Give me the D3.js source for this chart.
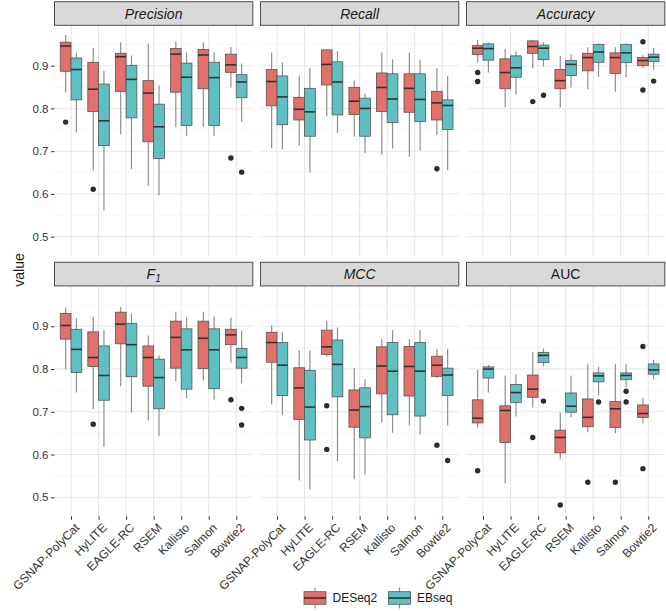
<!DOCTYPE html>
<html><head><meta charset="utf-8">
<script src="https://cdn.jsdelivr.net/npm/d3@7"></script>
<style>body{margin:0;background:#fff} svg{display:block;font-family:"Liberation Sans",Arial,Helvetica,sans-serif}</style>
</head><body><svg id="c" width="666" height="611"></svg>
<script>
// ---------------- data ----------------
const tools = ["GSNAP-PolyCat","HyLITE","EAGLE-RC","RSEM","Kallisto","Salmon","Bowtie2"];
const groups = ["DESeq2","EBseq"];
const metrics = ["Precision","Recall","Accuracy","F1","MCC","AUC"];
const yTicks = [0.5,0.6,0.7,0.8,0.9];
const yMinorTicks = [0.55,0.65,0.75,0.85,0.95];
const yDomain = [0.4555, 0.9945];
// each row: [lower whisker, Q1, median, Q3, upper whisker, [outliers]]
const precisionDESeq2 = [
  [0.837,0.887,0.946,0.955,0.972,[0.768]],
  [0.654,0.793,0.845,0.908,0.941,[0.611]],
  [0.739,0.840,0.921,0.929,0.955,[]],
  [0.619,0.722,0.836,0.865,0.952,[]],
  [0.756,0.838,0.927,0.940,0.957,[]],
  [0.757,0.846,0.925,0.938,0.955,[]],
  [0.849,0.884,0.902,0.927,0.944,[0.684]]];
const precisionEBseq = [
  [0.743,0.820,0.891,0.918,0.931,[]],
  [0.561,0.713,0.771,0.857,0.888,[]],
  [0.658,0.778,0.868,0.901,0.924,[]],
  [0.597,0.683,0.757,0.810,0.854,[]],
  [0.736,0.760,0.873,0.906,0.931,[]],
  [0.735,0.760,0.872,0.908,0.931,[]],
  [0.769,0.825,0.862,0.879,0.905,[0.651]]];
const recallDESeq2 = [
  [0.707,0.806,0.863,0.891,0.931,[]],
  [0.713,0.773,0.798,0.826,0.877,[]],
  [0.782,0.855,0.903,0.937,0.938,[]],
  [0.734,0.786,0.817,0.849,0.866,[]],
  [0.691,0.793,0.849,0.883,0.931,[]],
  [0.687,0.791,0.847,0.881,0.930,[]],
  [0.738,0.773,0.813,0.840,0.894,[0.659]]];
const recallEBseq = [
  [0.704,0.762,0.827,0.876,0.908,[]],
  [0.650,0.735,0.792,0.847,0.895,[]],
  [0.742,0.785,0.862,0.909,0.934,[]],
  [0.696,0.735,0.800,0.824,0.835,[]],
  [0.706,0.767,0.822,0.881,0.915,[]],
  [0.701,0.769,0.821,0.881,0.914,[]],
  [0.656,0.751,0.807,0.820,0.876,[]]];
const accuracyDESeq2 = [
  [0.908,0.926,0.941,0.947,0.960,[0.884,0.863]],
  [0.803,0.846,0.884,0.916,0.939,[]],
  [0.894,0.929,0.945,0.958,0.960,[0.816]],
  [0.802,0.846,0.865,0.891,0.923,[]],
  [0.845,0.888,0.919,0.929,0.943,[]],
  [0.839,0.882,0.919,0.930,0.943,[]],
  [0.894,0.900,0.912,0.919,0.925,[0.956,0.843]]];
const accuracyEBseq = [
  [0.884,0.913,0.940,0.951,0.954,[]],
  [0.832,0.873,0.895,0.923,0.934,[]],
  [0.898,0.914,0.941,0.948,0.955,[0.831]],
  [0.849,0.877,0.903,0.912,0.927,[]],
  [0.874,0.908,0.932,0.950,0.952,[]],
  [0.873,0.907,0.930,0.950,0.952,[]],
  [0.891,0.910,0.920,0.927,0.942,[0.864]]];
const f1DESeq2 = [
  [0.799,0.870,0.902,0.930,0.944,[]],
  [0.706,0.806,0.827,0.887,0.922,[0.671]],
  [0.760,0.859,0.905,0.933,0.946,[]],
  [0.679,0.760,0.827,0.854,0.879,[]],
  [0.772,0.802,0.874,0.912,0.934,[]],
  [0.773,0.801,0.872,0.912,0.934,[]],
  [0.815,0.857,0.880,0.893,0.920,[0.728]]];
const f1EBseq = [
  [0.745,0.792,0.846,0.893,0.919,[]],
  [0.618,0.727,0.785,0.854,0.892,[]],
  [0.698,0.782,0.857,0.907,0.930,[]],
  [0.643,0.707,0.780,0.823,0.832,[]],
  [0.732,0.753,0.845,0.894,0.921,[]],
  [0.729,0.754,0.845,0.894,0.923,[]],
  [0.767,0.802,0.827,0.848,0.890,[0.708,0.669]]];
const mccDESeq2 = [
  [0.717,0.816,0.862,0.886,0.902,[]],
  [0.539,0.682,0.756,0.803,0.844,[]],
  [0.829,0.834,0.852,0.891,0.913,[0.714,0.612]],
  [0.542,0.664,0.704,0.751,0.803,[]],
  [0.675,0.742,0.807,0.852,0.870,[]],
  [0.668,0.737,0.806,0.853,0.870,[]],
  [0.779,0.783,0.809,0.830,0.847,[0.622]]];
const mccEBseq = [
  [0.692,0.738,0.809,0.862,0.887,[]],
  [0.519,0.634,0.711,0.797,0.844,[]],
  [0.584,0.735,0.811,0.868,0.897,[]],
  [0.554,0.639,0.712,0.756,0.776,[]],
  [0.651,0.693,0.795,0.862,0.891,[]],
  [0.646,0.690,0.795,0.862,0.891,[]],
  [0.668,0.738,0.786,0.802,0.847,[0.586]]];
const aucDESeq2 = [
  [0.664,0.674,0.685,0.728,0.798,[0.562]],
  [0.533,0.628,0.703,0.714,0.785,[]],
  [0.710,0.734,0.753,0.786,0.839,[0.640]],
  [0.589,0.604,0.640,0.657,0.698,[0.482]],
  [0.653,0.665,0.687,0.730,0.811,[0.535]],
  [0.650,0.663,0.707,0.724,0.812,[0.535]],
  [0.673,0.687,0.696,0.716,0.732,[0.853,0.567]]];
const aucEBseq = [
  [0.745,0.779,0.800,0.805,0.810,[]],
  [0.689,0.722,0.745,0.764,0.788,[]],
  [0.806,0.815,0.832,0.839,0.848,[0.725]],
  [0.687,0.699,0.713,0.744,0.785,[]],
  [0.738,0.770,0.784,0.791,0.805,[0.723]],
  [0.758,0.775,0.785,0.791,0.812,[0.748,0.723]],
  [0.776,0.788,0.798,0.812,0.821,[]]];

const seriesByMetric = {
  Precision:[precisionDESeq2,precisionEBseq],
  Recall:[recallDESeq2,recallEBseq],
  Accuracy:[accuracyDESeq2,accuracyEBseq],
  F1:[f1DESeq2,f1EBseq],
  MCC:[mccDESeq2,mccEBseq],
  AUC:[aucDESeq2,aucEBseq]
};
const italicMetric = {Precision:true,Recall:true,Accuracy:true,F1:true,MCC:true,AUC:false};

// ---------------- layout ----------------
const fills = {DESeq2:"#E2706A", EBseq:"#5FC0C4"};
const svg = d3.select("#c");
const panelLeft0 = 54.5, panelW = 198.3, colGap = 7.7;
const rowTops = [25.3, 285.9], panelH = 230.4, stripH = 23.6;

const x = d3.scalePoint().domain(tools).range([0, panelW]).padding(0.6);
const step = x.step();
const dodge = d3.scaleBand().domain(groups).range([-0.39*step, 0.39*step]).padding(0);
const bw = dodge.bandwidth();

metrics.forEach((m, i) => {
  const row = Math.floor(i/3), col = i%3;
  const left = panelLeft0 + col*(panelW+colGap);
  const top = rowTops[row];
  const y = d3.scaleLinear().domain(yDomain).range([panelH, 0]);
  const g = svg.append("g").attr("transform", `translate(${left},${top})`);

  // grid
  g.selectAll(".minor").data(yMinorTicks).join("line")
    .attr("x1",0).attr("x2",panelW).attr("y1",d=>y(d)).attr("y2",d=>y(d))
    .attr("stroke","#F2F2F2").attr("stroke-width",0.6);
  g.selectAll(".major").data(yTicks).join("line")
    .attr("x1",0).attr("x2",panelW).attr("y1",d=>y(d)).attr("y2",d=>y(d))
    .attr("stroke","#E6E6E6").attr("stroke-width",1.1);
  g.selectAll(".vmajor").data(tools).join("line")
    .attr("x1",d=>x(d)).attr("x2",d=>x(d)).attr("y1",0).attr("y2",panelH)
    .attr("stroke","#E6E6E6").attr("stroke-width",1.1);

  // boxes
  const boxes = [];
  groups.forEach((grp, gi) => {
    seriesByMetric[m][gi].forEach((s, ti) => {
      boxes.push({grp, tool: tools[ti], s});
    });
  });
  const bg = g.selectAll(".box").data(boxes).join("g")
    .attr("transform", d => `translate(${x(d.tool) + dodge(d.grp)},0)`);
  bg.append("line").attr("x1",bw/2).attr("x2",bw/2)
    .attr("y1",d=>y(d.s[0])).attr("y2",d=>y(d.s[4]))
    .attr("stroke","#8F8F8F").attr("stroke-width",1.2);
  bg.append("rect").attr("x",0).attr("width",bw)
    .attr("y",d=>y(d.s[3])).attr("height",d=>y(d.s[1])-y(d.s[3]))
    .attr("fill",d=>fills[d.grp]).attr("stroke","#555").attr("stroke-width",0.8);
  bg.append("line").attr("x1",0).attr("x2",bw)
    .attr("y1",d=>y(d.s[2])).attr("y2",d=>y(d.s[2]))
    .attr("stroke","#333").attr("stroke-width",1.6);
  bg.selectAll("circle").data(d=>d.s[5]).join("circle")
    .attr("cx",bw/2).attr("cy",d=>y(d)).attr("r",2.7).attr("fill","#2B2B2B");

  // strip
  svg.append("rect").attr("x",left).attr("y",top-stripH).attr("width",panelW).attr("height",stripH)
    .attr("fill","#D9D9D9").attr("stroke","#4D4D4D").attr("stroke-width",1);
  const st = svg.append("text").attr("x",left+panelW/2).attr("y",top-stripH/2).attr("dy","0.36em")
    .attr("text-anchor","middle").attr("font-size",14).attr("fill","#1A1A1A")
    .attr("font-style", italicMetric[m] ? "italic" : "normal");
  if (m === "F1") {
    st.append("tspan").text("F");
    st.append("tspan").text("1").attr("font-size",10).attr("dy","0.3em");
  } else st.text(m);

  // y axis on left column
  if (col === 0) {
    const ya = g.append("g").call(d3.axisLeft(y).tickValues(yTicks).tickFormat(d3.format(".1f")).tickSize(3.5).tickPadding(2.5));
    ya.select(".domain").remove();
    ya.selectAll("line").attr("stroke","#333").attr("stroke-width",1);
    ya.selectAll("text").attr("font-size",11.5).attr("fill","#333")
      .attr("font-family","Liberation Sans, Arial, sans-serif");
  }
  // x axis on bottom row
  if (row === 1) {
    const xa = g.append("g").attr("transform",`translate(0,${panelH})`)
      .call(d3.axisBottom(x).tickSize(3.5).tickFormat(""));
    xa.select(".domain").remove();
    xa.selectAll("line").attr("stroke","#333").attr("stroke-width",1);
    g.selectAll(".xl").data(tools).join("text")
      .attr("transform", d => `translate(${x(d)+3},${panelH+6}) rotate(-45)`)
      .attr("dy","0.72em").attr("text-anchor","end")
      .attr("font-size",12).attr("fill","#333").text(d=>d);
  }
});

// y title
svg.append("text").attr("transform","translate(24,270) rotate(-90)")
  .attr("text-anchor","middle").attr("font-size",14).attr("fill","#1A1A1A").text("value");

// legend
const legX = [304, 388.5];
const legY = 598;
const lg = svg.selectAll(".leg").data(groups).join("g")
  .attr("transform",(d,i)=>`translate(${legX[i]},${legY})`);
lg.append("line").attr("x1",11).attr("x2",11).attr("y1",-10.5).attr("y2",10.5)
  .attr("stroke","#8F8F8F").attr("stroke-width",1.2);
lg.append("rect").attr("x",0).attr("y",-6.3).attr("width",22).attr("height",12.6)
  .attr("fill",d=>fills[d]).attr("stroke","#555").attr("stroke-width",0.8);
lg.append("line").attr("x1",0).attr("x2",22).attr("y1",0).attr("y2",0)
  .attr("stroke","#333").attr("stroke-width",1.6);
lg.append("text").attr("x",28.5).attr("dy","0.36em").attr("font-size",12)
  .attr("fill","#1A1A1A").text(d=>d);
</script></body></html>
